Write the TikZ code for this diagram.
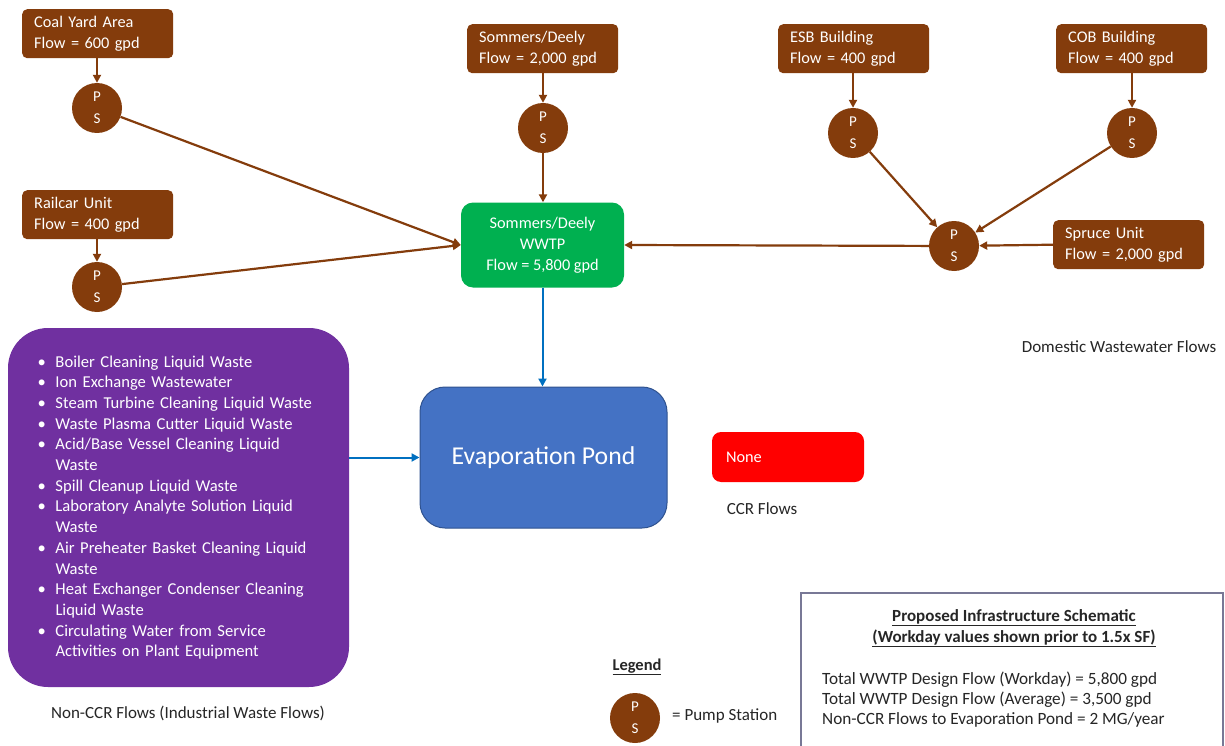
\documentclass[tikz,border=0pt]{standalone}
\usepackage{fontspec}
\setmainfont{Carlito}
\usetikzlibrary{arrows.meta}
\definecolor{brn}{RGB}{132,60,12}
\definecolor{grn}{RGB}{0,176,80}
\definecolor{evb}{RGB}{68,114,196}
\definecolor{evd}{RGB}{47,82,143}
\definecolor{purp}{RGB}{112,48,160}
\definecolor{arb}{RGB}{0,112,192}
\definecolor{redb}{RGB}{255,0,0}
\definecolor{txt}{RGB}{38,38,38}
\definecolor{infob}{RGB}{120,120,150}
\newcommand{\pitem}[1]{\makebox[18pt][l]{\textbullet}#1}
\newcommand{\pcont}[1]{\makebox[18pt][l]{}#1}
\begin{document}
\begin{tikzpicture}[x=1pt,y=-1pt,
 brbox/.style={rectangle, rounded corners=5pt, fill=brn, text=white, font=\fontsize{16.3}{21}\selectfont, align=left, text width=127pt, inner xsep=12pt, inner ysep=0pt, minimum height=49pt, anchor=north west},
 pscirc/.style={circle, fill=brn, text=white, minimum size=50pt, inner sep=0pt, font=\fontsize{15}{22}\selectfont, align=center},
 brarr/.style={draw=brn, line width=2.2pt, -{Triangle[length=8pt,width=8pt]}},
 blarr/.style={draw=arb, line width=2pt, -{Triangle[length=8pt,width=8pt]}},
 lbl/.style={text=txt, font=\fontsize{17}{20}\selectfont, inner sep=0pt},
]
\useasboundingbox[fill=white] (0,0) rectangle (1225,746);

% source boxes
\node[brbox] (coal) at (22,9) {Coal Yard Area\\Flow = 600 gpd};
\node[brbox] (rail) at (22,190) {Railcar Unit\\Flow = 400 gpd};
\node[brbox] (som) at (467,24) {Sommers/Deely\\Flow = 2,000 gpd};
\node[brbox] (esb) at (778,24) {ESB Building\\Flow = 400 gpd};
\node[brbox] (cob) at (1056,24) {COB Building\\Flow = 400 gpd};
\node[brbox] (spr) at (1053,220) {Spruce Unit\\Flow = 2,000 gpd};

% pump stations
\node[pscirc] (ps1) at (97,108) {P\\S};
\node[pscirc] (ps2) at (97,287) {P\\S};
\node[pscirc] (ps3) at (543,128) {P\\S};
\node[pscirc] (ps4) at (853,133) {P\\S};
\node[pscirc] (ps5) at (1132,133) {P\\S};
\node[pscirc] (ps6) at (954,246) {P\\S};

% WWTP
\node[rectangle, rounded corners=12pt, fill=grn, text=white, minimum width=163pt, minimum height=85pt, inner sep=0pt, align=center, font=\fontsize{16.3}{21}\selectfont] (wwtp) at (542.5,245) {Sommers/Deely\\WWTP\\Flow = 5,800 gpd};

% Evaporation pond
\node[rectangle, rounded corners=25pt, fill=evb, draw=evd, line width=1pt, text=white, minimum width=247pt, minimum height=141pt, inner sep=0pt, font=\fontsize{25.7}{30}\selectfont] (evap) at (543.5,457.5) {Evaporation Pond};

% Industrial flows
\node[rectangle, rounded corners=40pt, fill=purp, text=white, minimum width=341pt, minimum height=359pt, text width=282pt, align=left, inner sep=0pt, font=\fontsize{16.6}{20.7}\selectfont] (ind) at (178.5,507.5) {%
\pitem{Boiler Cleaning Liquid Waste}\\
\pitem{Ion Exchange Wastewater}\\
\pitem{Steam Turbine Cleaning Liquid Waste}\\
\pitem{Waste Plasma Cutter Liquid Waste}\\
\pitem{Acid/Base Vessel Cleaning Liquid}\\
\pcont{Waste}\\
\pitem{Spill Cleanup Liquid Waste}\\
\pitem{Laboratory Analyte Solution Liquid}\\
\pcont{Waste}\\
\pitem{Air Preheater Basket Cleaning Liquid}\\
\pcont{Waste}\\
\pitem{Heat Exchanger Condenser Cleaning}\\
\pcont{Liquid Waste}\\
\pitem{Circulating Water from Service}\\
\pcont{Activities on Plant Equipment}};

% CCR
\node[rectangle, rounded corners=9pt, fill=redb, text=white, minimum width=152pt, minimum height=50pt, text width=124pt, inner xsep=14pt, inner ysep=0pt, align=left, font=\fontsize{16.3}{20}\selectfont] (none) at (788,457) {None};

% labels
\node[lbl] (dom) at (1119,347) {Domestic Wastewater Flows};
\node[lbl] (ccr) at (762,509) {CCR Flows};
\node[lbl] (ncr) at (188,713) {Non-CCR Flows (Industrial Waste Flows)};

% connectors
\draw[brarr] (coal.south -| ps1) -- (ps1.north);
\draw[brarr] (rail.south -| ps2) -- (ps2.north);
\draw[brarr] (som.south -| ps3) -- (ps3.north);
\draw[brarr] (esb.south -| ps4) -- (ps4.north);
\draw[brarr] (cob.south -| ps5) -- (ps5.north);
\draw[brarr] (ps3.south) -- (ps3.south |- wwtp.north);
\draw[brarr] (ps1) -- (wwtp.west);
\draw[brarr] (ps2) -- (wwtp.west);
\draw[brarr] (ps4) -- (ps6);
\draw[brarr] (ps5) -- (ps6);
\draw[brarr] (spr.west) -- (ps6);
\draw[brarr] (ps6) -- (wwtp.east);
\draw[blarr] (wwtp.south) -- (wwtp.south |- evap.north);
\draw[blarr] (evap.west -| ind.east) -- (evap.west);

% legend
\node[text=txt, inner sep=0pt, font=\bfseries\fontsize{16.5}{20}\selectfont] (legt) at (637,667) {\underline{Legend}};
\node[pscirc] (legc) at (635,718) {P\\S};
\node[lbl, anchor=west] (legd) at (672,716) {= Pump Station};

% info box
\draw[infob, line width=1.5pt] (801,746) -- (801,593) -- (1223,593) -- (1223,746);
\node[text=txt, inner sep=0pt, align=center, font=\bfseries\fontsize{17}{21}\selectfont] (ititle) at (1014,628) {\underline{Proposed Infrastructure Schematic}\\\underline{(Workday values shown prior to 1.5x SF)}};
\node[text=txt, inner sep=0pt, anchor=west, align=left, font=\fontsize{17.2}{20}\selectfont] (ilines) at (822,700) {Total WWTP Design Flow (Workday) = 5,800 gpd\\Total WWTP Design Flow (Average) = 3,500 gpd\\Non-CCR Flows to Evaporation Pond = 2 MG/year};
\end{tikzpicture}
\end{document}
